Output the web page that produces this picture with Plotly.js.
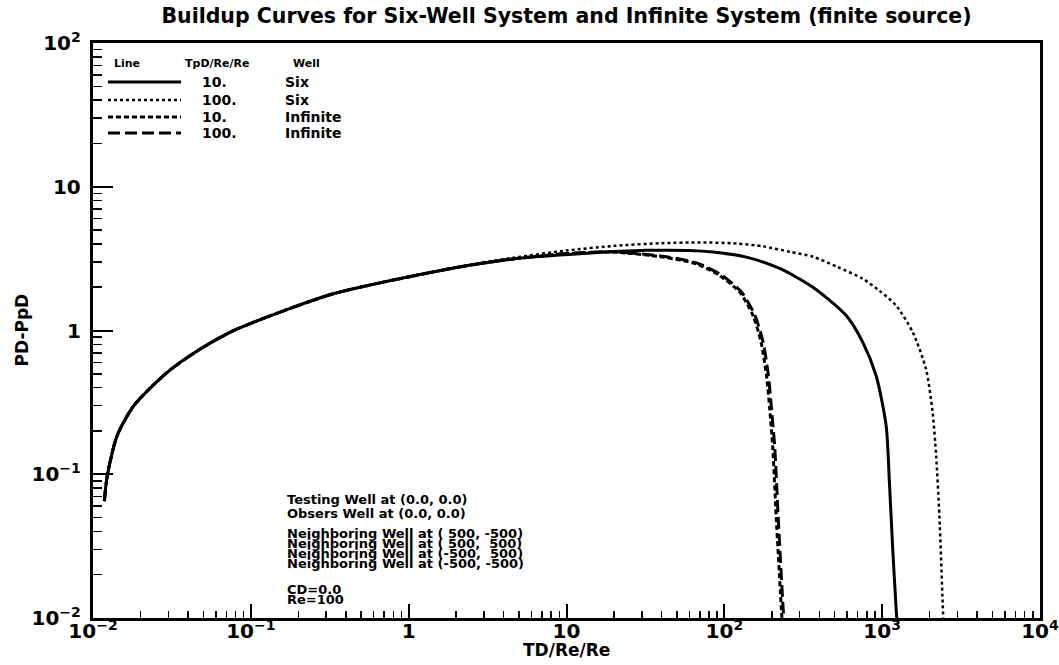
<!DOCTYPE html>
<html>
<head>
<meta charset="utf-8">
<script src="https://cdn.plot.ly/plotly-3.0.1.min.js"></script>
<style>
  html, body { margin: 0; padding: 0; background: #ffffff; }
  #chart { width: 1059px; height: 665px; }
</style>
</head>
<body>
<div id="chart"></div>
<script>
// Buildup curves: PD-PpD versus TD/Re/Re for the six-well and infinite systems

// Six-well system, TpD/Re/Re = 10
const sixTp10X = [0.0118, 0.0123, 0.0142, 0.0181, 0.0294, 0.0478, 0.0776, 0.161, 0.333, 0.69, 1.82, 2.83,
                  5.0, 12.1, 32.1, 60, 84.7, 138, 224, 364, 592, 754, 916, 1060, 1112, 1167, 1227, 1245];
const sixTp10Y = [0.065, 0.097, 0.185, 0.299, 0.51, 0.743, 0.997, 1.37, 1.80, 2.17, 2.69, 2.92,
                  3.18, 3.42, 3.61, 3.6, 3.51, 3.24, 2.7, 2.0, 1.27, 0.827, 0.484, 0.217, 0.087, 0.030, 0.0114, 0.009];

// Six-well system, TpD/Re/Re = 100
const sixTp100X = [0.0118, 0.0123, 0.0142, 0.0181, 0.0294, 0.0478, 0.0776, 0.161, 0.333, 0.69, 1.82, 2.83,
                   5.0, 10, 20, 40, 70, 120, 176, 260, 364, 521, 754, 961, 1227, 1563, 1897, 2089, 2198, 2305, 2418, 2450];
const sixTp100Y = [0.065, 0.097, 0.185, 0.299, 0.51, 0.743, 0.997, 1.37, 1.80, 2.17, 2.69, 2.95,
                   3.25, 3.6, 3.88, 4.05, 4.1, 4.03, 3.85, 3.53, 3.26, 2.77, 2.29, 1.89, 1.49, 0.971, 0.538, 0.268, 0.134, 0.051, 0.0127, 0.009];

// Infinite system, TpD/Re/Re = 10
const infTp10X = [0.0118, 0.0123, 0.0142, 0.0181, 0.0294, 0.0478, 0.0776, 0.161, 0.333, 0.69, 1.82, 2.83,
                  5.0, 10, 19.7, 40.8, 66.5, 93.3, 125, 152, 171, 185, 194, 203, 213, 230, 233];
const infTp10Y = [0.065, 0.097, 0.185, 0.299, 0.51, 0.743, 0.997, 1.37, 1.80, 2.17, 2.69, 2.92,
                  3.18, 3.42, 3.51, 3.24, 2.91, 2.41, 1.85, 1.27, 0.827, 0.484, 0.283, 0.149, 0.051, 0.0114, 0.009];

// Infinite system, TpD/Re/Re = 100
const infTp100X = [0.0118, 0.0123, 0.0142, 0.0181, 0.0294, 0.0478, 0.0776, 0.161, 0.333, 0.69, 1.82, 2.83,
                   5.0, 10, 20, 42, 68, 96, 128, 156, 176, 190, 199, 209, 219, 236, 240];
const infTp100Y = [0.065, 0.097, 0.185, 0.299, 0.51, 0.743, 0.997, 1.37, 1.80, 2.17, 2.69, 2.92,
                   3.18, 3.43, 3.53, 3.27, 2.93, 2.43, 1.86, 1.28, 0.83, 0.49, 0.285, 0.15, 0.052, 0.0115, 0.009];

// Legend table rows: line style key, TpD/Re/Re value, well system
const legendTp = ['10.', '100.', '10.', '100.'];
const legendWell = ['Six', 'Six', 'Infinite', 'Infinite'];

// Well locations and parameters printed in the plot
const noteLines = [
  'Testing Well at (0.0, 0.0)',
  'Obsers Well at (0.0, 0.0)',
  'Neighboring Well at ( 500, -500)',
  'Neighboring Well at ( 500,  500)',
  'Neighboring Well at (-500,  500)',
  'Neighboring Well at (-500, -500)',
  'CD=0.0',
  'Re=100'
];

const FONT = 'DejaVu Sans, Verdana, sans-serif';
const INK = '#000000';

const styles = [
  { width: 3, dash: 'solid' },
  { width: 2.5, dash: 'dot' },
  { width: 3, dash: '5px,3px' },
  { width: 3, dash: '12px,5px' }
];

const series = [
  [sixTp10X, sixTp10Y],
  [sixTp100X, sixTp100Y],
  [infTp10X, infTp10Y],
  [infTp100X, infTp100Y]
];

const traces = series.map((s, i) => ({
  type: 'scatter',
  mode: 'lines',
  x: s[0],
  y: s[1],
  name: legendTp[i] + ' ' + legendWell[i],
  line: { color: INK, width: styles[i].width, dash: styles[i].dash, shape: 'spline', smoothing: 0.7 },
  hoverinfo: 'x+y'
}));

// Plot area in pixels, used to place the legend table and notes in paper units
const plotL = 93, plotR = 1040, plotT = 43, plotB = 618;
const px = v => (v - plotL) / (plotR - plotL);
const py = v => (plotB - v) / (plotB - plotT);

const shapes = [];
const annotations = [];

// Legend header
const headFont = { family: FONT, size: 11, weight: 700, color: INK };
annotations.push({ text: 'Line', x: px(112), y: py(63), xanchor: 'left', font: headFont });
annotations.push({ text: 'TpD/Re/Re', x: px(217), y: py(63), xanchor: 'center', font: headFont });
annotations.push({ text: 'Well', x: px(306), y: py(63), xanchor: 'center', font: headFont });

const rowY = [82, 100, 117, 133];
rowY.forEach((r, i) => {
  shapes.push({
    type: 'line', xref: 'paper', yref: 'paper',
    x0: px(108), x1: px(181), y0: py(r), y1: py(r),
    line: { color: INK, width: styles[i].width, dash: styles[i].dash }
  });
  annotations.push({ text: legendTp[i], x: px(200), y: py(r), xanchor: 'left',
    font: { family: FONT, size: 14, weight: 700, color: INK } });
  annotations.push({ text: legendWell[i], x: px(283), y: py(r), xanchor: 'left',
    font: { family: FONT, size: 14, weight: 700, color: INK } });
});

const noteY = [499, 513, 533, 543, 553, 563, 589, 599];
noteLines.forEach((t, i) => {
  annotations.push({ text: t, x: px(285), y: py(noteY[i]), xanchor: 'left',
    font: { family: FONT, size: 13, weight: 700, color: INK } });
});

// Axis titles, placed by pixel position around the plot frame
const axisTitleFont = { family: FONT, size: 17, weight: 700, color: INK };
annotations.push({ text: 'TD/Re/Re', x: 0.5, y: py(650), xanchor: 'center', font: axisTitleFont });
annotations.push({ text: 'PD-PpD', x: px(21), y: 0.5, xanchor: 'center', textangle: -90, font: axisTitleFont });

annotations.forEach(a => {
  a.xref = 'paper'; a.yref = 'paper'; a.showarrow = false; a.yanchor = 'middle';
});

const axisBase = {
  type: 'log',
  dtick: 1,
  exponentformat: 'power',
  showgrid: false,
  zeroline: false,
  showline: true,
  linecolor: INK,
  linewidth: 3,
  mirror: true,
  ticks: 'inside',
  tickcolor: INK,
  tickwidth: 2,
  ticklabeloverflow: 'allow',
  tickfont: { family: FONT, size: 16, weight: 700, color: INK },
  fixedrange: true
};

const layout = {
  width: 1059,
  height: 665,
  margin: { l: plotL, r: 1059 - plotR, t: plotT, b: 665 - plotB, pad: 0 },
  paper_bgcolor: '#ffffff',
  plot_bgcolor: '#ffffff',
  showlegend: false,
  font: { family: FONT, color: INK },
  title: {
    text: 'Buildup Curves for Six-Well System and Infinite System (finite source)',
    font: { family: FONT, size: 20.5, weight: 700, color: INK },
    xref: 'paper', x: 0.5, xanchor: 'center',
    yref: 'container', y: 1 - 16 / 665, yanchor: 'middle'
  },
  xaxis: Object.assign({}, axisBase, {
    range: [-2, 4],
    ticklen: 14,
    ticklabelstandoff: -6,
    minor: { ticks: 'inside', ticklen: 7, tickwidth: 1.5, tickcolor: INK, dtick: 'D1', showgrid: false }
  }),
  yaxis: Object.assign({}, axisBase, {
    range: [-2, 2],
    ticklen: 20,
    ticklabelstandoff: 6,
    minor: { ticks: 'inside', ticklen: 9, tickwidth: 1.5, tickcolor: INK, dtick: 'D1', showgrid: false }
  }),
  shapes: shapes,
  annotations: annotations
};

Plotly.newPlot('chart', traces, layout, { displayModeBar: false, staticPlot: true });
</script>
</body>
</html>
